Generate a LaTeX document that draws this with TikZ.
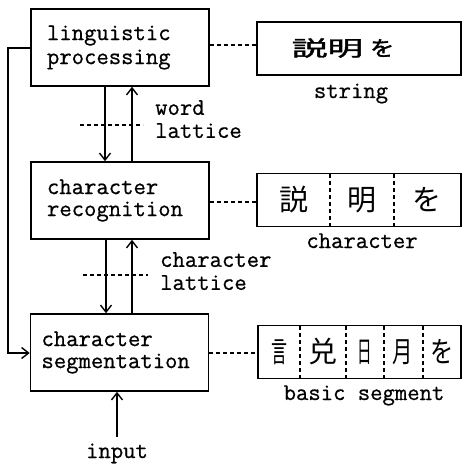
\documentclass[tikz,border=0pt]{standalone}
\usepackage{fontspec}
\usepackage{graphicx}
\setmainfont[FakeBold=0.7]{Latin Modern Mono}
\newfontfamily\jp{Noto Sans CJK JP}
\newfontfamily\jpheavy[FakeBold=1.5]{Noto Sans CJK JP}
\usetikzlibrary{arrows.meta}

\begin{document}
\begin{tikzpicture}[x=1pt,y=-1pt,
  stagebox/.style={draw, line width=1.6pt, minimum width=178pt, minimum height=77pt,
    text width=146pt, inner xsep=16pt, align=left, font=\fontsize{24}{22}\selectfont},
  unitbox/.style={draw, line width=1.5pt, minimum width=204pt, minimum height=53pt, inner sep=0pt},
  flow/.style={line width=1.6pt, -{Straight Barb[length=7pt,width=11pt,line width=1.4pt]}},
  dots/.style={line width=1.5pt, dash pattern=on 4pt off 3pt},
  divider/.style={line width=1.4pt, dash pattern=on 4pt off 3pt},
  lbl/.style={font=\fontsize{24}{23}\selectfont, align=left, anchor=north west, inner sep=0pt},
  unitlabel/.style={font=\fontsize{24}{21}\selectfont, anchor=base, inner sep=0pt},
  glyph/.style={font=\jp\fontsize{29}{29}\selectfont, inner sep=0pt}
]
\useasboundingbox (0,0) rectangle (462,465);

% processing stages
\node[stagebox] (ling)  at (120,47.5)  {linguistic\\[2pt]processing};
\node[stagebox] (recog) at (120,200.5) {character\\recognition};
\node[stagebox, inner xsep=11pt, text width=156pt] (seg) at (119.5,352.5) {character\\segmentation};

% units handled at each stage
\node[unitbox] (str)  at (359,48.5) {};
\node[unitbox] (chr)  at (359,200)  {};
\node[unitbox, minimum width=203pt] (segs) at (359.5,352) {};

\node[inner sep=0pt, font=\jpheavy\fontsize{21}{21}\selectfont] (strtext) at (343,48)
  {\scalebox{1.7}[1]{説明}\hspace{7pt}\scalebox{1.15}[1]{を}};

\draw[divider] (330,174) -- (330,226);
\draw[divider] (394,174) -- (394,226);
\node[glyph] (c1) at (294,200) {説};
\node[glyph] (c2) at (362,200) {明};
\node[glyph] (c3) at (427,200) {を};

\draw[divider] (300,326) -- (300,378);
\draw[divider] (346,326) -- (346,378);
\draw[divider] (384,326) -- (384,378);
\draw[divider] (423,326) -- (423,378);
\node[glyph] (s1) at (279,352) {\scalebox{0.55}[1]{言}};
\node[glyph] (s2) at (323,352) {兑};
\node[glyph] (s3) at (365,352) {\scalebox{0.5}[1]{日}};
\node[glyph] (s4) at (403,352) {\scalebox{0.7}[1]{月}};
\node[glyph] (s5) at (442,352) {\scalebox{0.8}[1]{を}};

\node[unitlabel] (strlab) at (351,98)  {string};
\node[unitlabel] (chrlab) at (362,248) {character};
\node[unitlabel] (seglab) at (364,400) {basic segment};

% stage to unit links
\draw[dots] (ling.east |- 0,45) -- (str.west |- 0,45);
\draw[dots] (recog.east |- 0,202) -- (chr.west |- 0,202);
\draw[dots] (seg.east |- 0,353) -- (segs.west |- 0,353);

% data flow between stages
\draw[flow] (ling.south -| 105,0) -- (recog.north -| 105,0);
\draw[flow] (recog.north -| 132,0) -- (ling.south -| 132,0);
\draw[flow] (recog.south -| 106,0) -- (seg.north -| 106,0);
\draw[flow] (seg.north -| 132,0) -- (recog.south -| 132,0);

\draw[dots] (80,125) -- (143,125);
\draw[dots] (83,275) -- (148,275);
\node[lbl] (wl) at (155,100) {word\\lattice};
\node[lbl] (cl) at (160,252) {character\\lattice};

% feedback from linguistic processing to segmentation
\draw[flow] (ling.west |- 0,48) -- (8,48) -- (8,353) -- (seg.west |- 0,353);

% input
\node[unitlabel] (inp) at (117,458) {input};
\coordinate (inptop) at (117,437);
\draw[flow] (inptop) -- (seg.south -| inptop);
\end{tikzpicture}
\end{document}
